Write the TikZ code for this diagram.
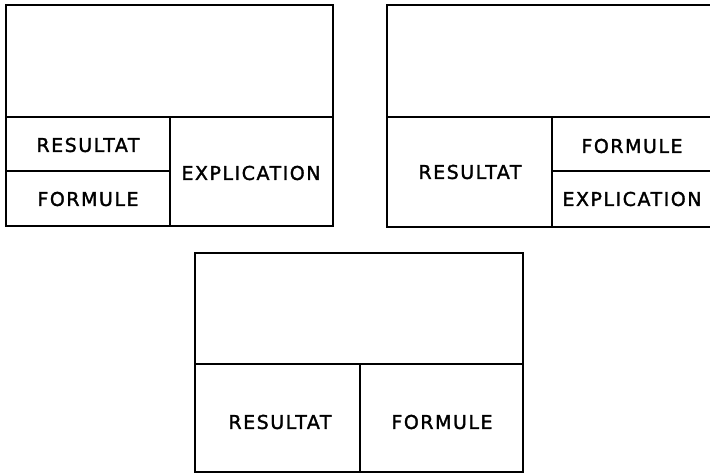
\documentclass[tikz,border=0pt]{standalone}
\usepackage{fontspec}
\setmainfont[LetterSpace=8,FakeBold=1.6]{DejaVu Sans}
\begin{document}
\begin{tikzpicture}[x=1pt,y=-1pt,
  frame/.style={line width=2.6pt},
  divider/.style={line width=2pt},
  lbl/.style={font=\fontsize{19}{21}\selectfont, inner sep=0pt}]
\useasboundingbox (0,0) rectangle (710,474);
% box 1
\draw[frame] (6,5) rectangle (333,226);
\draw[divider] (6,117) -- (333,117);
\draw[divider] (170,117) -- (170,226);
\draw[divider] (6,171) -- (170,171);
\node[lbl] (r1) at (88,145) {RESULTAT};
\node[lbl] (f1) at (88,199) {FORMULE};
\node[lbl] (e1) at (251,173) {EXPLICATION};
% box 2
\draw[frame] (387,5) rectangle (712,227);
\draw[divider] (387,117) -- (712,117);
\draw[divider] (552,117) -- (552,227);
\draw[divider] (552,171) -- (712,171);
\node[lbl] (r2) at (470,172) {RESULTAT};
\node[lbl] (f2) at (632,146) {FORMULE};
\node[lbl] (e2) at (632,199) {EXPLICATION};
% box 3
\draw[frame] (195,253) rectangle (523,472);
\draw[divider] (195,364) -- (523,364);
\draw[divider] (360,364) -- (360,472);
\node[lbl] (r3) at (280,422) {RESULTAT};
\node[lbl] (f3) at (442,422) {FORMULE};
\end{tikzpicture}
\end{document}
